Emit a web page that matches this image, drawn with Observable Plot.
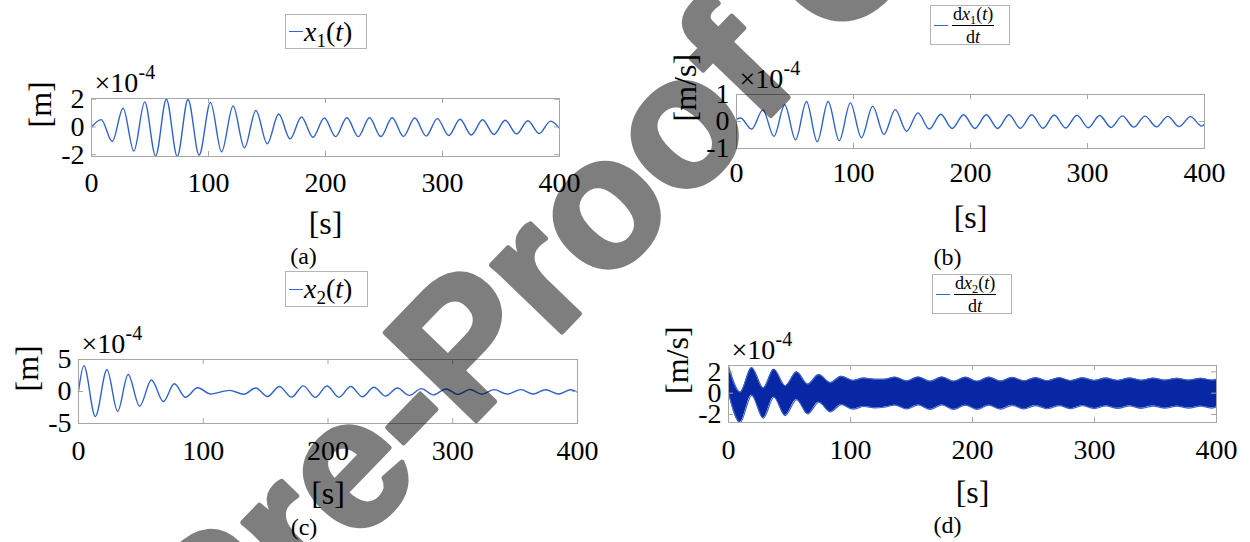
<!DOCTYPE html>
<html>
<head>
<meta charset="utf-8">
<script src="https://cdn.jsdelivr.net/npm/d3@7"></script>
<script src="https://cdn.jsdelivr.net/npm/@observablehq/plot@0.6"></script>
<style>
  html, body { margin: 0; padding: 0; background: #fff; }
  #wrap { position: relative; width: 1250px; height: 542px; overflow: hidden; font-family: "Liberation Serif", "Tinos", "Times New Roman", "DejaVu Serif", serif; color: #000; }
  #wrap svg { position: absolute; left: 0; top: 0; background: transparent !important; max-width: none !important; }
  #wrap svg.panel text { font-family: "Liberation Serif", "Tinos", "Times New Roman", "DejaVu Serif", serif !important; }
  .legend { position: absolute; background: #fff; border: 1px solid #b4b4b4; box-sizing: border-box; display: flex; align-items: center; color: #000; }
  .legend .ln { display: inline-block; width: 14px; height: 0; border-top: 1.4px solid #3567cf; margin: 0 1px 0 3px; flex: none; }
  .legend .m { font-family: "Liberation Serif", "Tinos", "Times New Roman", "DejaVu Serif", serif; white-space: nowrap; line-height: 1; }
  .legend sub { font-size: 0.68em; vertical-align: -0.3em; line-height: 0; font-style: normal; }
  .frac { display: inline-flex; flex-direction: column; align-items: center; line-height: 1; margin-left: 3px; }
  .frac .num { border-bottom: 1.2px solid #000; padding: 0 1px 2px 1px; }
  .frac .den { padding-top: 2px; }
</style>
</head>
<body>
<div id="wrap"></div>
<script>
// ---------------- data ----------------
const xTicks = [0, 100, 200, 300, 400];
const xLabel = "[s]";
const units = ["[m]", "[m/s]", "[m]", "[m/s]"];
const captions = ["(a)", "(b)", "(c)", "(d)"];
const scaleNote = ["×10", "-4"];
const legendSub = ["1", "1", "2", "2"];

// (a) x1(t) extrema, ×1e-4 m
const x1T = [0, 8.3, 17.7, 27.0, 36.2, 45.5, 54.8, 64.0, 73.3, 82.5, 92.0, 101.7, 111.2, 121.0, 130.7, 140.5, 150.2, 160.0, 169.7, 179.5, 189.2, 199.0, 208.6, 218.3, 228.0, 237.6, 247.3, 257.0, 266.6, 276.3, 286.0, 295.6, 305.3, 315.0, 324.6, 334.3, 344.0, 353.6, 363.3, 373.0, 382.6, 392.3, 400];
const x1V = [0, 0.53, -1.05, 1.35, -1.74, 1.81, -2.09, 2.0, -2.12, 1.98, -2.02, 1.77, -1.79, 1.51, -1.51, 1.19, -1.21, 0.93, -0.86, 0.72, -0.74, 0.64, -0.70, 0.66, -0.70, 0.66, -0.69, 0.66, -0.68, 0.64, -0.66, 0.6, -0.62, 0.56, -0.58, 0.52, -0.54, 0.48, -0.5, 0.45, -0.47, 0.42, -0.1];

// (b) dx1/dt extrema, ×1e-4 m/s
const v1T = [0, 3.4, 13.0, 22.5, 32.0, 41.2, 50.5, 59.8, 69.0, 78.3, 87.8, 97.3, 106.8, 116.4, 126.0, 135.7, 145.4, 155.1, 164.8, 174.6, 184.3, 194.1, 203.8, 213.5, 223.2, 232.9, 242.6, 252.3, 262.0, 271.6, 281.3, 291.0, 300.7, 310.4, 320.1, 329.8, 339.5, 349.2, 358.9, 368.6, 378.3, 388.0, 397.6, 400];
const v1V = [0.08, 0.13, -0.28, 0.43, -0.55, 0.62, -0.68, 0.74, -0.75, 0.74, -0.71, 0.69, -0.6, 0.57, -0.48, 0.44, -0.36, 0.32, -0.28, 0.27, -0.26, 0.25, -0.26, 0.25, -0.26, 0.25, -0.25, 0.25, -0.25, 0.24, -0.24, 0.23, -0.23, 0.22, -0.22, 0.21, -0.21, 0.2, -0.2, 0.19, -0.19, 0.18, -0.17, -0.1];

// (c) x2(t) extrema, ×1e-4 m
const x2T = [0, 4.3, 13.5, 22.8, 31.4, 39.8, 49.0, 58.5, 68.0, 76.8, 85.8, 95.5, 106.0, 121.0, 132.5, 142.0, 151.5, 161.0, 170.8, 180.2, 189.8, 199.2, 208.8, 218.2, 227.6, 236.8, 246.2, 255.6, 265.2, 274.8, 284.5, 294.6, 304.2, 313.8, 323.4, 333.2, 343.5, 354.6, 364.5, 374.4, 384.8, 394.6, 400];
const x2V = [0, 4.05, -3.9, 3.4, -3.1, 2.65, -2.3, 1.8, -1.56, 1.2, -0.9, 0.58, -0.38, 0.18, -0.42, 0.55, -0.78, 0.78, -0.88, 0.88, -0.92, 0.86, -0.88, 0.78, -0.82, 0.66, -0.72, 0.54, -0.6, 0.45, -0.52, 0.4, -0.46, 0.32, -0.42, 0.3, -0.4, 0.3, -0.4, 0.28, -0.4, 0.28, -0.1];

// (d) dx2/dt: upper and lower envelope of the dense oscillation, ×1e-4 m/s
const v2T  = [0, 9.5, 19, 28.5, 37.2, 46.5, 55.8, 65, 74, 83.5, 92.5, 102, 111, 120, 127.5, 136.5, 146, 155.6, 165.2, 175, 184.6, 194.2, 203.8, 213.4, 223, 232.6, 242.2, 251.8, 261.4, 271, 280.6, 290.2, 299.8, 309.4, 319, 328.8, 338.4, 348.2, 357.8, 367.6, 377.2, 387, 396.6, 400];
const v2Up = [2.55, 0.1, 2.4, 0.5, 2.25, 0.7, 2.0, 0.85, 1.75, 1.0, 1.58, 1.2, 1.42, 1.3, 1.3, 1.5, 1.15, 1.52, 1.12, 1.52, 1.12, 1.5, 1.12, 1.5, 1.14, 1.48, 1.16, 1.46, 1.17, 1.45, 1.18, 1.44, 1.2, 1.42, 1.2, 1.42, 1.21, 1.41, 1.22, 1.4, 1.22, 1.4, 1.22, 1.3];
const v2Lo = [0, -2.75, -0.2, -2.35, -0.38, -2.1, -0.6, -1.95, -0.85, -1.75, -1.08, -1.5, -1.25, -1.38, -1.32, -1.12, -1.48, -1.1, -1.52, -1.1, -1.52, -1.12, -1.52, -1.12, -1.5, -1.14, -1.48, -1.16, -1.46, -1.17, -1.45, -1.18, -1.44, -1.2, -1.42, -1.2, -1.42, -1.21, -1.41, -1.22, -1.4, -1.22, -1.4, -1.3];

const watermarkText = "Pre-Proof C";

// ---------------- layout & style ----------------
const W = 1250, H = 542;
const SERIF = "'Liberation Serif', 'Tinos', 'Times New Roman', 'DejaVu Serif', serif";
const BLUE = "#2f63cb", BAND = "#0827a4", FRAME = "#a6a6a6";
const layout = [
  {L: 91,  R: 559,  T: 98,  B: 156, ydom: [-2.13, 2.05], yt: [-2, 0, 2], padX: 16, capDx: -22, capDy: 100, xlDy: 67,
   leg: {left: 285, top: 14, w: 82, h: 35}},
  {L: 736, R: 1204, T: 94,  B: 148, ydom: [-1, 1],       yt: [-1, 0, 1], padX: 14, capDx: -23, capDy: 109, xlDy: 69,
   leg: {left: 930, top: 5, w: 80, h: 40}},
  {L: 78,  R: 577,  T: 359, B: 423, ydom: [-5, 5],       yt: [-5, 0, 5], padX: 17, capDx: -24, capDy: 104, xlDy: 70,
   leg: {left: 285, top: 271, w: 83, h: 36}},
  {L: 728, R: 1216, T: 365, B: 422, ydom: [-2.75, 2.6],  yt: [-2, 0, 2], padX: 17, capDx: -25, capDy: 103, xlDy: 70,
   leg: {left: 932, top: 274, w: 80, h: 40}}
];

const series = [
  x1T.map((t, i) => ({t, v: x1V[i]})),
  v1T.map((t, i) => ({t, v: v1V[i]})),
  x2T.map((t, i) => ({t, v: x2V[i]})),
  v2T.map((t, i) => ({t, up: v2Up[i], lo: v2Lo[i]}))
];

const wrap = document.getElementById("wrap");

layout.forEach((g, k) => {
  const fw = g.R - g.L, fh = g.B - g.T;
  const dataMarks = k === 3
    ? [
        Plot.areaY(series[3], {x: "t", y1: "lo", y2: "up", curve: "monotone-x", fill: BAND}),
        Plot.line(series[3], {x: "t", y: "up", curve: "monotone-x", stroke: "#3d63c6", strokeWidth: 1.2}),
        Plot.line(series[3], {x: "t", y: "lo", curve: "monotone-x", stroke: "#3d63c6", strokeWidth: 1.2})
      ]
    : [Plot.line(series[k], {x: "t", y: "v", curve: "monotone-x", stroke: BLUE, strokeWidth: 1.4})];

  const chart = Plot.plot({
    width: W, height: H,
    marginLeft: g.L, marginRight: W - g.R, marginTop: g.T, marginBottom: H - g.B,
    style: {fontFamily: SERIF, fontSize: "28px", color: "#000", background: "transparent", overflow: "visible"},
    x: {domain: [0, 400]},
    y: {domain: g.ydom},
    marks: [
      ...dataMarks,
      Plot.frame({stroke: FRAME, strokeWidth: 1}),
      Plot.axisX({ticks: xTicks, tickSize: 0, tickPadding: g.padX, tickFormat: d => String(d), fontSize: 28, fontFamily: SERIF, fill: "#000", label: null}),
      Plot.axisY({ticks: g.yt, tickSize: 0, tickPadding: 7, tickFormat: d => String(d), fontSize: 28, fontFamily: SERIF, fill: "#000", label: null}),
      Plot.tickX(xTicks.slice(1, -1), {x: d => d, insetTop: fh - 5, stroke: FRAME}),
      Plot.tickX(xTicks.slice(1, -1), {x: d => d, insetBottom: fh - 5, stroke: FRAME}),
      Plot.tickY(g.yt, {y: d => d, insetRight: fw - 5, stroke: FRAME}),
      Plot.tickY(g.yt, {y: d => d, insetLeft: fw - 5, stroke: FRAME}),
      Plot.text([xLabel], {text: d => d, frameAnchor: "bottom", dy: g.xlDy, fontSize: 32, fontFamily: SERIF, lineAnchor: "middle", fill: "#000"}),
      Plot.text([units[k]], {text: d => d, frameAnchor: "left", dx: -51, rotate: -90, fontSize: 32, fontFamily: SERIF, lineAnchor: "middle", fill: "#000"}),
      Plot.text([scaleNote[0]], {text: d => d, frameAnchor: "top-left", dx: 3, dy: -7, textAnchor: "start", lineAnchor: "bottom", fontSize: 28, fontFamily: SERIF, fill: "#000"}),
      Plot.text([scaleNote[1]], {text: d => d, frameAnchor: "top-left", dx: 47, dy: -20, textAnchor: "start", lineAnchor: "bottom", fontSize: 20, fontFamily: SERIF, fill: "#000"}),
      Plot.text([captions[k]], {text: d => d, frameAnchor: "bottom", dx: g.capDx, dy: g.capDy, fontSize: 24, fontFamily: SERIF, lineAnchor: "middle", fill: "#000"})
    ]
  });
  chart.classList.add("panel");
  wrap.appendChild(chart);

  // legend box
  const lg = document.createElement("div");
  lg.className = "legend";
  Object.assign(lg.style, {left: g.leg.left + "px", top: g.leg.top + "px", width: g.leg.w + "px", height: g.leg.h + "px"});
  const sub = legendSub[k];
  if (k % 2 === 0) {
    lg.innerHTML = `<span class="ln"></span><span class="m" style="font-size:28px"><i>x</i><sub>${sub}</sub>(<i>t</i>)</span>`;
  } else {
    lg.innerHTML = `<span class="ln"></span><span class="frac m" style="font-size:18px"><span class="num">d<i>x</i><sub>${sub}</sub>(<i>t</i>)</span><span class="den">d<i>t</i></span></span>`;
  }
  wrap.appendChild(lg);
});

// watermark overlay (semi-transparent black, drawn over the panels)
const wm = d3.select(wrap).append("svg")
  .attr("width", W).attr("height", H)
  .style("pointer-events", "none");
wm.append("text")
  .attr("transform", "translate(219,687) rotate(-46)")
  .style("font-family", "'Liberation Sans', Arial, sans-serif")
  .style("font-weight", "bold")
  .style("font-size", "184px")
  .attr("fill", "#000")
  .attr("stroke", "#000")
  .attr("stroke-width", 5)
  .attr("stroke-linejoin", "round")
  .attr("opacity", 0.5)
  .text(watermarkText);
</script>
</body>
</html>
